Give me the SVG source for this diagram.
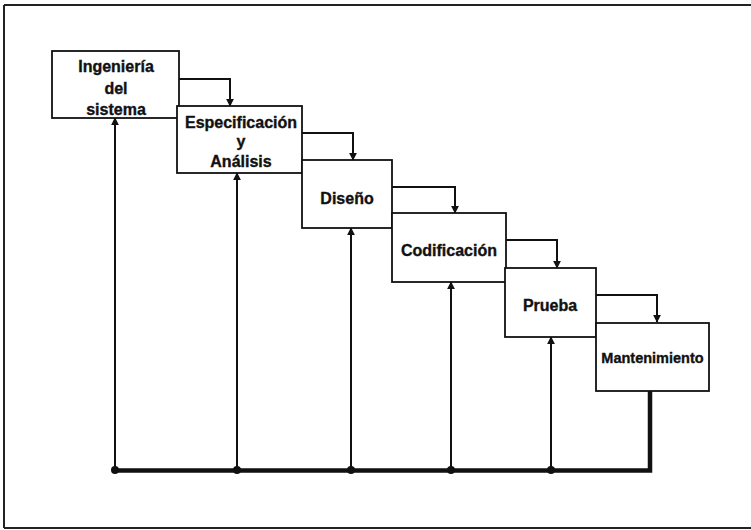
<svg xmlns="http://www.w3.org/2000/svg" width="751" height="530" viewBox="0 0 751 530">
  <style>
    .box { fill: #fff; stroke: #111; stroke-width: 1.8; }
    .lbl { font-family: "Liberation Sans", Arial, sans-serif; font-weight: bold; font-size: 16px; fill: #111; stroke: #111; stroke-width: 0.35; text-anchor: middle; }
    .flow { fill: none; stroke: #111; stroke-width: 2; }
    .back { fill: none; stroke: #111; stroke-width: 2; }
    .bus { fill: none; stroke: #111; stroke-width: 4.5; stroke-linejoin: miter; }
    .frame { fill: none; stroke: #222; stroke-width: 2; }
  </style>
  <defs>
    <marker id="arrow" viewBox="0 0 10 10" refX="9" refY="5" markerWidth="8" markerHeight="8" markerUnits="userSpaceOnUse" orient="auto">
      <path d="M0,0 L10,5 L0,10 z" fill="#111"/>
    </marker>
    <marker id="dot" viewBox="0 0 10 10" refX="5" refY="5" markerWidth="8" markerHeight="8" markerUnits="userSpaceOnUse">
      <circle cx="5" cy="5" r="5" fill="#111"/>
    </marker>
  </defs>

  <!-- page frame -->
  <g id="frame">
    <path class="frame" d="M4,5 H751"/>
    <path class="frame" d="M4,5 V528"/>
    <path class="frame" d="M4,528 H751" stroke="#555" stroke-width="1.6"/>
  </g>

  <!-- connectors -->
  <g id="connectors">
    <!-- forward flow between phases -->
    <path class="flow" d="M179,79 H230 V106" marker-end="url(#arrow)"/>
    <path class="flow" d="M302,133 H353 V160" marker-end="url(#arrow)"/>
    <path class="flow" d="M392,187 H455 V213" marker-end="url(#arrow)"/>
    <path class="flow" d="M506,240 H557 V268" marker-end="url(#arrow)"/>
    <path class="flow" d="M596,295 H657 V322" marker-end="url(#arrow)"/>
    <!-- return bus from maintenance -->
    <path class="bus" d="M650,391 V470.5 H114"/>
    <!-- feedback to each phase -->
    <path class="back" d="M115,470 V118" marker-start="url(#dot)" marker-end="url(#arrow)"/>
    <path class="back" d="M237,470 V173" marker-start="url(#dot)" marker-end="url(#arrow)"/>
    <path class="back" d="M351,470 V228" marker-start="url(#dot)" marker-end="url(#arrow)"/>
    <path class="back" d="M451,470 V282" marker-start="url(#dot)" marker-end="url(#arrow)"/>
    <path class="back" d="M551,470 V337" marker-start="url(#dot)" marker-end="url(#arrow)"/>
  </g>

  <g id="ingenieria">
    <rect class="box" x="52" y="51" width="127" height="67"/>
    <text class="lbl" x="116" y="72">Ingeniería</text>
    <text class="lbl" x="116" y="94">del</text>
    <text class="lbl" x="116" y="115">sistema</text>
  </g>
  <g id="especificacion">
    <rect class="box" x="177" y="106" width="125" height="67"/>
    <text class="lbl" x="241" y="128">Especificación</text>
    <text class="lbl" x="241" y="147">y</text>
    <text class="lbl" x="241" y="167">Análisis</text>
  </g>
  <g id="diseno">
    <rect class="box" x="302" y="160" width="90" height="68"/>
    <text class="lbl" x="347" y="204">Diseño</text>
  </g>
  <g id="codificacion">
    <rect class="box" x="392" y="213" width="114" height="69"/>
    <text class="lbl" x="449" y="256">Codificación</text>
  </g>
  <g id="prueba">
    <rect class="box" x="505" y="268" width="91" height="69"/>
    <text class="lbl" x="550" y="311">Prueba</text>
  </g>
  <g id="mantenimiento">
    <rect class="box" x="596" y="323" width="113" height="68"/>
    <text class="lbl" x="652.5" y="363" style="font-size:14.5px">Mantenimiento</text>
  </g>
</svg>
